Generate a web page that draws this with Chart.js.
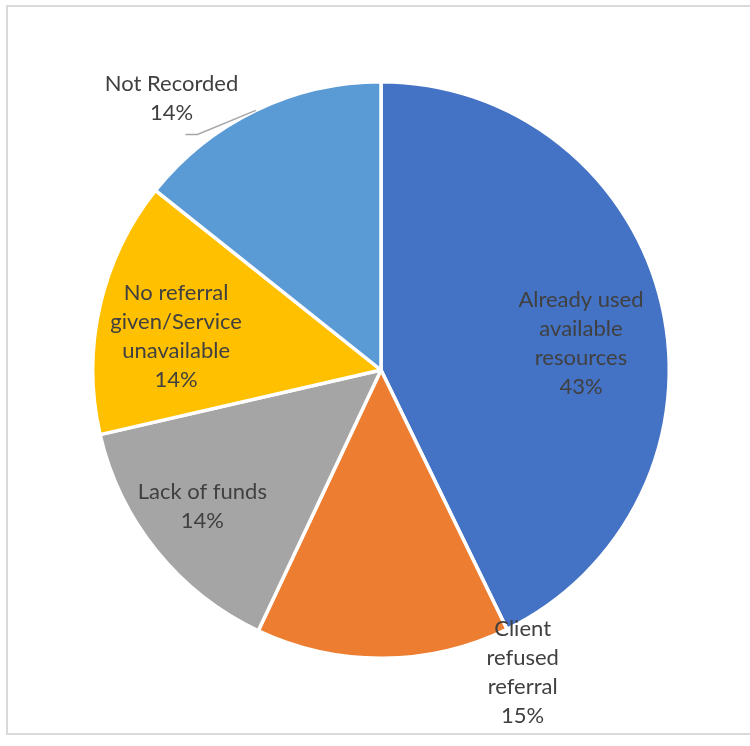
<!DOCTYPE html>
<html>
<head>
<meta charset="utf-8">
<script src="https://cdn.jsdelivr.net/npm/chart.js@4.4.0/dist/chart.umd.min.js"></script>
<style>
  html, body { margin: 0; padding: 0; background: #fff; }
  #wrap { position: relative; width: 750px; height: 746px; overflow: hidden; }
  #frame { position: absolute; left: 6px; top: 5px; width: 800px; height: 726px; border: 2px solid #d9d9d9; }
  #myChart { position: absolute; left: 0; top: 0; }
</style>
</head>
<body>
<div id="wrap">
  <div id="frame"></div>
  <canvas id="myChart" width="750" height="746"></canvas>
</div>
<script>
const categories = [
  ['Already used', 'available', 'resources'],
  ['Client', 'refused', 'referral'],
  ['Lack of funds'],
  ['No referral', 'given/Service', 'unavailable'],
  ['Not Recorded']
];
const shares = [42.8, 14.2, 14.4, 14.3, 14.3];
const percentLabels = ['43%', '15%', '14%', '14%', '14%'];
const colors = ['#4472C4', '#ED7D31', '#A5A5A5', '#FFC000', '#5B9BD5'];

// where excel put each label: fraction of radius, angle shift from slice middle (deg)
const labelRadius = [0.70, 1.16, 0.78, 0.72, 1.19];
const labelShift = [5.3, -24.7, 1.5, -3.6, -11.9];

const pieLabels = {
  id: 'pieLabels',
  afterDatasetsDraw(chart) {
    const ctx = chart.ctx;
    const arcs = chart.getDatasetMeta(0).data;
    ctx.save();
    ctx.font = '22px Lato, "Open Sans", sans-serif';
    ctx.fillStyle = '#404040';
    ctx.textAlign = 'center';
    ctx.textBaseline = 'middle';
    const lh = 29;
    arcs.forEach((arc, i) => {
      const p = arc.getProps(['x', 'y', 'startAngle', 'endAngle', 'outerRadius'], true);
      const mid = (p.startAngle + p.endAngle) / 2;
      const a = mid + labelShift[i] * Math.PI / 180;
      const r = p.outerRadius * labelRadius[i];
      const cx = p.x + Math.cos(a) * r;
      const cy = p.y + Math.sin(a) * r;
      const lines = categories[i].concat([percentLabels[i]]);
      const top = cy - (lines.length - 1) * lh / 2;
      lines.forEach((t, k) => ctx.fillText(t, cx, top + k * lh));
      if (i === 4) {
        // leader line from slice edge to label
        ctx.strokeStyle = '#a6a6a6';
        ctx.lineWidth = 1.5;
        ctx.beginPath();
        ctx.moveTo(p.x + Math.cos(mid) * p.outerRadius, p.y + Math.sin(mid) * p.outerRadius);
        ctx.lineTo(cx + 26, cy + 36);
        ctx.lineTo(cx + 14, cy + 36);
        ctx.stroke();
      }
    });
    ctx.restore();
  }
};

new Chart(document.getElementById('myChart').getContext('2d'), {
  type: 'pie',
  data: {
    labels: categories.map(c => c.join(' ')),
    datasets: [{
      data: shares,
      backgroundColor: colors,
      borderColor: '#ffffff',
      borderWidth: 3.5
    }]
  },
  options: {
    responsive: false,
    animation: false,
    layout: { padding: { left: 91, top: 80, right: 79, bottom: 86 } },
    plugins: {
      legend: { display: false },
      tooltip: { enabled: false }
    }
  },
  plugins: [pieLabels]
});
</script>
</body>
</html>
